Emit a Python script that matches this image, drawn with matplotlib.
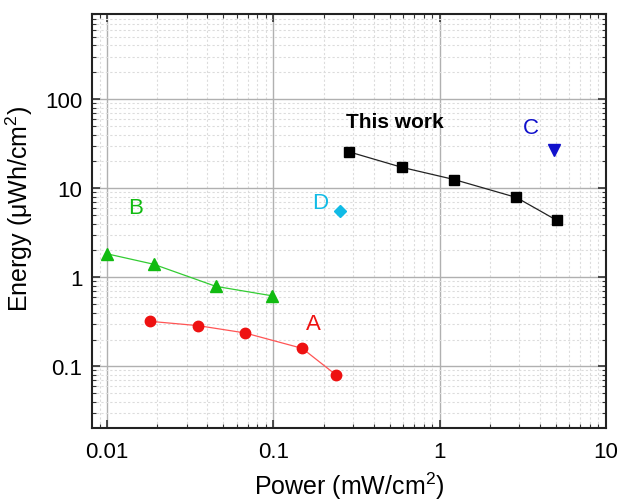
import matplotlib
matplotlib.use("Agg")
import matplotlib.pyplot as plt
from matplotlib.ticker import LogLocator, FuncFormatter, NullFormatter

plt.rcParams['font.family'] = ['Liberation Sans', 'DejaVu Sans']
plt.rcParams['mathtext.fontset'] = 'custom'
plt.rcParams['mathtext.rm'] = 'Liberation Sans'
plt.rcParams['mathtext.it'] = 'Liberation Sans:italic'
plt.rcParams['mathtext.bf'] = 'Liberation Sans:bold'

# Data
work_x = [0.284, 0.594, 1.22, 2.89, 5.04]
work_y = [25.6, 17.1, 12.5, 7.86, 4.37]
a_x = [0.0181, 0.0353, 0.0674, 0.149, 0.237]
a_y = [0.32, 0.286, 0.237, 0.159, 0.0805]
b_x = [0.01, 0.019, 0.045, 0.0975]
b_y = [1.83, 1.40, 0.79, 0.62]
c_x = [4.84]
c_y = [26.9]
d_x = [0.251]
d_y = [5.61]

fig = plt.figure(figsize=(6.19, 5.02), dpi=100)
ax = fig.add_axes([0.1486, 0.1454, 0.979 - 0.1486, 0.970 - 0.1454])
ax.set_xscale('log')
ax.set_yscale('log')
ax.set_xlim(0.0081, 10)
ax.set_ylim(0.0203, 900)

ax.grid(True, which='major', color='#b0b0b0', linewidth=1.0, linestyle='-', zorder=0)
ax.grid(True, which='minor', color='#dcdcdc', linewidth=0.8, linestyle=(0, (2, 2)), zorder=0)
ax.set_axisbelow(True)

ax.plot(work_x, work_y, '-', color='#222222', linewidth=0.9, marker='s', markersize=7,
        markerfacecolor='black', markeredgecolor='black', zorder=3)
ax.plot(a_x, a_y, '-', color='#ff5555', linewidth=0.9, marker='o', markersize=7.5,
        markerfacecolor='#ee1111', markeredgecolor='#ee1111', zorder=3)
ax.plot(b_x, b_y, '-', color='#33cc33', linewidth=0.9, marker='^', markersize=8,
        markerfacecolor='#11bb11', markeredgecolor='#11bb11', zorder=3)
ax.plot(c_x, c_y, linestyle='none', marker='v', markersize=8,
        markerfacecolor='#1111cc', markeredgecolor='#1111cc', zorder=3)
ax.plot(d_x, d_y, linestyle='none', marker='D', markersize=6,
        markerfacecolor='#11bbe6', markeredgecolor='#11bbe6', zorder=3)

ax.text(0.537, 56.6, 'This work', fontsize=15, fontweight='bold', color='black',
        ha='center', va='center')
ax.text(3.55, 48.5, 'C', fontsize=16, color='#1111cc', ha='center', va='center')
ax.text(0.19, 6.96, 'D', fontsize=16, color='#11bbe6', ha='center', va='center')
ax.text(0.0149, 6.1, 'B', fontsize=16, color='#11bb11', ha='center', va='center')
ax.text(0.175, 0.299, 'A', fontsize=16, color='#ee1111', ha='center', va='center')

fmt = FuncFormatter(lambda v, p: ('%g' % v))
ax.xaxis.set_major_locator(LogLocator(base=10, numticks=10))
ax.yaxis.set_major_locator(LogLocator(base=10, numticks=10))
ax.xaxis.set_minor_locator(LogLocator(base=10, subs=range(2, 10), numticks=20))
ax.yaxis.set_minor_locator(LogLocator(base=10, subs=range(2, 10), numticks=20))
ax.xaxis.set_major_formatter(fmt)
ax.yaxis.set_major_formatter(fmt)
ax.xaxis.set_minor_formatter(NullFormatter())
ax.yaxis.set_minor_formatter(NullFormatter())

ax.tick_params(which='both', direction='in', top=True, right=True, color='#333333')
ax.tick_params(which='major', length=6, width=1.2, labelsize=16)
ax.tick_params(axis='x', which='major', pad=9)
ax.tick_params(axis='y', which='major', pad=7)
ax.tick_params(which='minor', length=3, width=0.8)
for s in ax.spines.values():
    s.set_linewidth(1.5)
    s.set_color('#222222')

ax.set_xlabel('Power (mW/cm$^2$)', fontsize=18)
ax.set_ylabel('Energy (\u03bcWh/cm$^2$)', fontsize=18)
ax.xaxis.set_label_coords(0.5, -0.100)
ax.yaxis.set_label_coords(-0.111, 0.531)

fig.savefig('out.png', dpi=100)
